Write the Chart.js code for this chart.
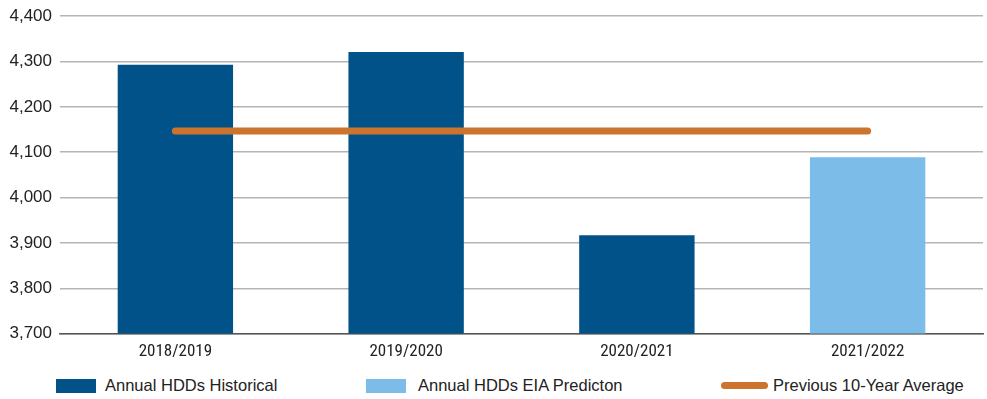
<!DOCTYPE html>
<html><head><meta charset="utf-8">
<script src="https://cdn.jsdelivr.net/npm/chart.js@4/dist/chart.umd.min.js"></script>
<style>
html,body{margin:0;padding:0;background:#fff;}
#wrap{position:relative;width:987px;height:399px;overflow:hidden;}
#c{position:absolute;left:0;top:-2px;}
.lg{position:absolute;top:375px;font-family:"Liberation Sans",Arial,sans-serif;font-size:16.5px;color:#222;line-height:20px;}
.sw{position:absolute;}
</style></head>
<body>
<div id="wrap">
<canvas id="c" width="987" height="372"></canvas>
<div class="sw" style="left:56px;top:379px;width:40px;height:14px;background:#005288"></div>
<div class="lg" style="left:105px">Annual HDDs Historical</div>
<div class="sw" style="left:366px;top:379px;width:40px;height:14px;background:#7bbde8"></div>
<div class="lg" style="left:418px">Annual HDDs EIA Predicton</div>
<div class="sw" style="left:721px;top:382px;width:47px;height:7px;border-radius:4px;background:#cc742e"></div>
<div class="lg" style="left:773px">Previous 10-Year Average</div>
</div>
<script>
const categories = ["2018/2019","2019/2020","2020/2021","2021/2022"];
const historical = [4293, 4321, 3917, null];
const prediction = [null, null, null, 4089];
const tenYearAvg = [4147, 4147, 4147, 4147];
const yTicks = [3700,3800,3900,4000,4100,4200,4300,4400];

new Chart(document.getElementById('c'), {
  data: {
    labels: categories,
    datasets: [
      {type:'line', data: tenYearAvg, borderColor:'#cc742e', borderWidth:7, borderCapStyle:'round', pointRadius:0, order:0},
      {type:'bar', data: historical, backgroundColor:'#005288', barPercentage:0.5, categoryPercentage:1, grouped:false, order:1},
      {type:'bar', data: prediction, backgroundColor:'#7bbde8', barPercentage:0.5, categoryPercentage:1, grouped:false, order:1}
    ]
  },
  options: {
    responsive:false, animation:false,
    layout:{padding:{left:0,right:4,top:5,bottom:0}},
    plugins:{legend:{display:false}, tooltip:{enabled:false}},
    scales:{
      x:{
        grid:{display:false, drawTicks:false},
        border:{display:true,color:'#555',width:1.5},
        ticks:{color:'#222', padding:8, font:{family:'"Liberation Sans Narrow","Roboto Condensed",Roboto,sans-serif', size:17}}
      },
      y:{
        min:3700, max:4400,
        afterBuildTicks:(ax)=>{ax.ticks = yTicks.map(v=>({value:v}));},
        afterFit:(ax)=>{ax.width = 60;},
        grid:{color:'#b5b5b5', lineWidth:1.5, drawTicks:false},
        border:{display:false},
        ticks:{color:'#222', padding:8, font:{family:'"Liberation Sans",Arial,sans-serif', size:17},
          callback:(v)=>v.toLocaleString('en-US')}
      }
    }
  }
});
</script>
</body></html>
